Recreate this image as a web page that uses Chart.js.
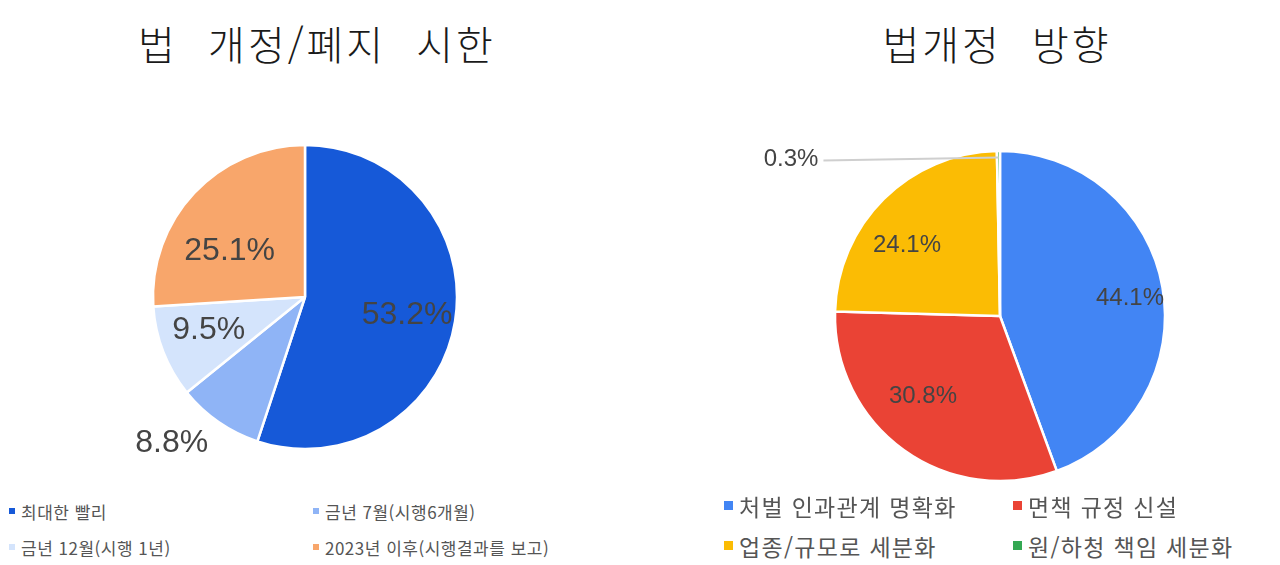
<!DOCTYPE html>
<html lang="ko">
<head>
    <meta charset="UTF-8">
    <meta name="viewport" content="width=device-width, initial-scale=1.0">
    <title>법 개정 설문</title>
    <script src="https://cdn.jsdelivr.net/npm/chart.js@4.4.3/dist/chart.umd.min.js"></script>
    <style>
        body { margin: 0; width: 1280px; height: 565px; background: #fff; position: relative; overflow: hidden; }
        .title { position: absolute; top: 16px; font-family: 'Noto Sans CJK KR', sans-serif; font-size: 40px; font-weight: 300;
                 line-height: 54px; color: #1a1a1a; word-spacing: 16px; letter-spacing: 3px; text-align: center; }
        canvas { position: absolute; }
        .legend { position: absolute; font-family: 'Noto Sans CJK KR', sans-serif; color: #555; }
        .legend div { position: absolute; white-space: nowrap; display: flex; align-items: center; }
        .legend span.box { display: inline-block; margin-right: 6px; }
    </style>
</head>
<body>
    <div class="title" style="left:117px;width:400px;">법 개정/폐지 시한</div>
    <div class="title" style="left:797px;width:400px;">법개정 방향</div>

    <canvas id="chart1" width="610" height="394" style="left:0;top:100px;"></canvas>
    <canvas id="chart2" width="560" height="372" style="left:720px;top:130px;"></canvas>

    <div class="legend" id="legend1"></div>
    <div class="legend" id="legend2"></div>

    <script>
        // 법 개정/폐지 시한
        const timingLabels = ['최대한 빨리', '금년 7월(시행6개월)', '금년 12월(시행 1년)', '2023년 이후(시행결과를 보고)'];
        const timingValues = [53.2, 8.8, 9.5, 25.1];
        const timingColors = ['#1659d8', '#8fb4f6', '#d4e4fc', '#f8a66b'];

        // 법개정 방향
        const directionLabels = ['처벌 인과관계 명확화', '면책 규정 신설', '업종/규모로 세분화', '원/하청 책임 세분화'];
        const directionValues = [44.1, 30.8, 24.1, 0.3];
        const directionColors = ['#4285f4', '#ea4335', '#fbbc04', '#34a853'];

        // draws the percentage labels (inside or outside) for each slice
        const sliceLabels = {
            id: 'sliceLabels',
            afterDatasetsDraw(chart, args, opts) {
                const ctx = chart.ctx;
                const meta = chart.getDatasetMeta(0);
                const values = chart.data.datasets[0].data;
                ctx.save();
                ctx.font = opts.font;
                ctx.fillStyle = '#444';
                meta.data.forEach((arc, i) => {
                    const text = values[i].toFixed(1) + '%';
                    const mid = (arc.startAngle + arc.endAngle) / 2;
                    const r = arc.outerRadius;
                    if (opts.leader && opts.leader.includes(i)) {
                        const sx = arc.x + Math.cos(mid) * r * 0.96;
                        const sy = arc.y + Math.sin(mid) * r * 0.96;
                        const ex = arc.x - r * 1.07;
                        ctx.strokeStyle = '#cfcfcf';
                        ctx.lineWidth = 2;
                        ctx.beginPath();
                        ctx.moveTo(sx, sy);
                        ctx.lineTo(ex, sy + 3);
                        ctx.stroke();
                        ctx.textAlign = 'right';
                        ctx.textBaseline = 'middle';
                        ctx.fillText(text, ex - 5, sy + 2);
                    } else if (opts.outside && opts.outside.includes(i)) {
                        ctx.textAlign = 'right';
                        ctx.textBaseline = 'middle';
                        ctx.fillText(text, arc.x + Math.cos(mid) * r * 1.12, arc.y + Math.sin(mid) * r * 1.12 + 6);
                    } else {
                        ctx.textAlign = 'center';
                        ctx.textBaseline = 'middle';
                        ctx.fillText(text, arc.x + Math.cos(mid) * r * opts.fx,
                            arc.y + Math.sin(mid) * r * opts.fy + (opts.dy || 0));
                    }
                });
                ctx.restore();
            }
        };

        function makePie(id, labels, values, colors, radius, labelOpts) {
            return new Chart(document.getElementById(id), {
                type: 'pie',
                data: {
                    labels: labels,
                    datasets: [{
                        data: values,
                        backgroundColor: colors,
                        borderColor: '#fff',
                        borderWidth: 2.5
                    }]
                },
                options: {
                    responsive: false,
                    animation: false,
                    radius: radius,
                    layout: { padding: 0 },
                    plugins: {
                        legend: { display: false },
                        tooltip: { enabled: false },
                        sliceLabels: labelOpts
                    }
                },
                plugins: [sliceLabels]
            });
        }

        makePie('chart1', timingLabels, timingValues, timingColors, 152,
            { font: '32px "Liberation Sans", Arial, sans-serif', fx: 0.68, fy: 0.5, dy: 6, outside: [1] });
        makePie('chart2', directionLabels, directionValues, directionColors, 165,
            { font: '24px "Liberation Sans", Arial, sans-serif', fx: 0.8, fy: 0.6, dy: 0, leader: [3] });

        // html legends, two columns
        function buildLegend(id, labels, colors, cols, rows, fontSize, box, spacing) {
            const el = document.getElementById(id);
            el.style.fontSize = fontSize + 'px';
            el.style.letterSpacing = spacing + 'px';
            labels.forEach((label, i) => {
                const item = document.createElement('div');
                item.style.left = cols[i % 2] + 'px';
                item.style.top = (rows[Math.floor(i / 2)] - fontSize * 0.7) + 'px';
                item.style.height = (fontSize * 1.4) + 'px';
                item.innerHTML = '<span class="box" style="width:' + box + 'px;height:' + box + 'px;background:' +
                    colors[i] + '"></span>' + label;
                el.appendChild(item);
            });
        }
        buildLegend('legend1', timingLabels, timingColors, [9, 313], [511, 547], 17, 6, 0.5);
        buildLegend('legend2', directionLabels, directionColors, [724, 1013], [506, 546], 23, 9, 1.3);
    </script>
</body>
</html>
